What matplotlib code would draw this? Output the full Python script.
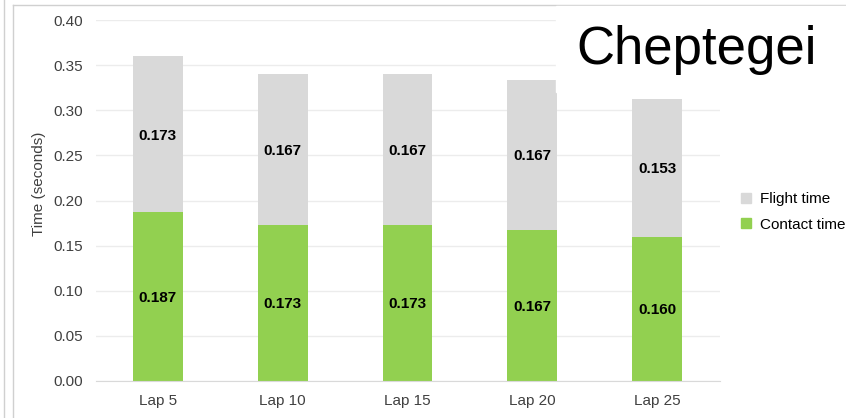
import numpy as np
import matplotlib.pyplot as plt
from matplotlib.lines import Line2D

plt.rcParams['font.family'] = ['Liberation Sans', 'DejaVu Sans']

laps = ['Lap 5', 'Lap 10', 'Lap 15', 'Lap 20', 'Lap 25']
contact = [0.187, 0.173, 0.173, 0.167, 0.160]
flight = [0.173, 0.167, 0.167, 0.167, 0.153]

green = '#92d050'
grey = '#d9d9d9'

W, H = 846, 418
fig = plt.figure(figsize=(W / 100, H / 100), dpi=100)
ax = fig.add_axes([95.5 / W, 1 - 381 / H, 624 / W, 361 / H])

x = np.arange(len(laps))
ax.bar(x, contact, width=0.4, color=green, zorder=2)
ax.bar(x, flight, width=0.4, bottom=contact, color=grey, zorder=2)

# value labels in the middle of each segment
for i in range(len(laps)):
    ax.text(x[i], contact[i] / 2, '%.3f' % contact[i], ha='center',
            va='center_baseline', fontsize=11, fontweight='bold', zorder=3)
    ax.text(x[i], contact[i] + flight[i] / 2, '%.3f' % flight[i], ha='center',
            va='center_baseline', fontsize=11, fontweight='bold', zorder=3)

ax.set_xlim(-0.5, len(laps) - 0.5)
ax.set_ylim(0, 0.40)
ax.set_yticks(np.arange(0, 0.401, 0.05))
ax.yaxis.set_major_formatter(plt.FormatStrFormatter('%.2f'))
ax.set_xticks(x)
ax.set_xticklabels(laps)
ax.tick_params(length=0, labelsize=11, colors='#404040', pad=9)
ax.tick_params(axis='x', pad=9)
ax.set_ylabel('Time (seconds)', fontsize=11, color='#404040')
ax.yaxis.set_label_coords(-0.08, 0.546)
ax.grid(axis='y', color='#ececec', linewidth=1, zorder=0)
for s in ['top', 'right', 'left']:
    ax.spines[s].set_visible(False)
ax.spines['bottom'].set_color('#d9d9d9')

# legend
handles = [Line2D([], [], marker='s', ls='', color=grey, markersize=7),
           Line2D([], [], marker='s', ls='', color=green, markersize=7)]
fig.legend(handles, ['Flight time', 'Contact time'], loc='center left',
           bbox_to_anchor=(731 / W, 1 - 212 / H), frameon=False, fontsize=11,
           handletextpad=-0.1, labelspacing=0.75, borderpad=0, borderaxespad=0)

# name label with a white box over the corner of the plot
fig.patches.append(plt.Rectangle((556 / W, 1 - 92 / H), 1, 86 / H,
                                 transform=fig.transFigure, color='white',
                                 zorder=5, figure=fig))
fig.text(697 / W, 1 - 50 / H, 'Cheptegei', fontsize=38, ha='center', va='center',
         zorder=6)

# panel borders
fig.add_artist(Line2D([3.5 / W, 3.5 / W], [0, 1], color='#d0d0d0', lw=1))
fig.add_artist(Line2D([12.5 / W, 12.5 / W], [0, 1 - 5 / H], color='#d0d0d0', lw=1))
fig.add_artist(Line2D([12.5 / W, 1], [1 - 5 / H, 1 - 5 / H], color='#d0d0d0', lw=1))

fig.savefig('out.png', dpi=100)
